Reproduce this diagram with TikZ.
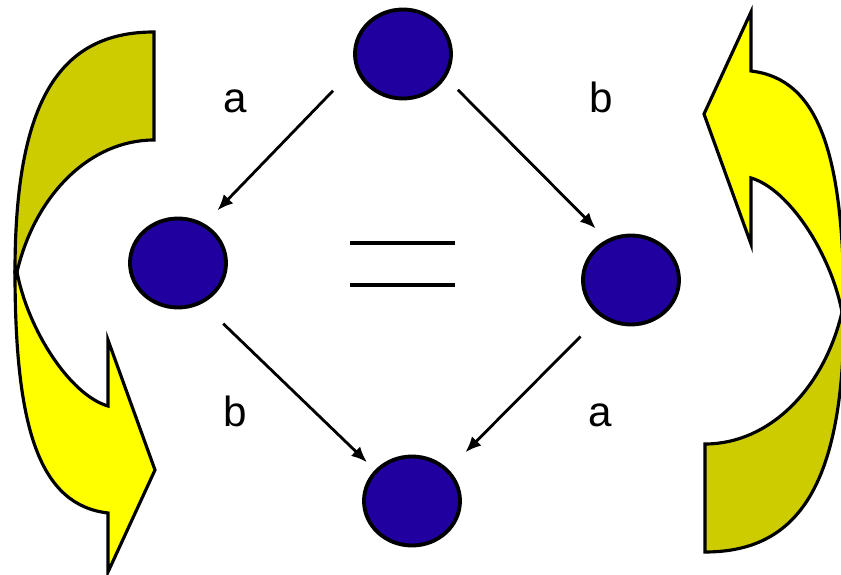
\documentclass[tikz,border=0pt]{standalone}
\usepackage{fontspec}
\setmainfont{Liberation Sans}
\usepackage{tikz}
\usetikzlibrary{shapes.geometric,arrows.meta}

\definecolor{knotenblau}{RGB}{32,0,158}
\definecolor{oliv}{RGB}{204,204,0}
\definecolor{gelb}{RGB}{255,255,0}

% gebogener Pfeil (Schwanz oben, Spitze unten)
\newcommand{\drehpfeil}{%
	\draw[band, fill=gelb] (0.34,6.04) -- (0.30,6.04) .. controls (0.30,2.88) and (0.80,1.38) .. (2.16,1.22)
		-- (2.16,0.04) -- (3.10,2.08) -- (2.16,4.68) -- (2.16,3.36)
		.. controls (1.40,3.58) and (0.56,4.88) .. (0.34,6.04) -- cycle;
	\draw[band, fill=oliv] (3.08,8.68) -- (3.08,10.84) .. controls (1.20,10.84) and (0.30,9.48) .. (0.30,6.04)
		-- (0.34,6.04) .. controls (0.70,7.58) and (1.80,8.68) .. (3.08,8.68) -- cycle;
}

\begin{document}
\begin{tikzpicture}[
		vertex/.style={ellipse, draw, line width=2.2pt, fill=knotenblau, minimum width=1.92cm, minimum height=1.78cm, inner sep=0pt},
		conn/.style={line width=1.6pt, -{Latex[length=9pt,width=7.5pt]}},
		lab/.style={anchor=base, font=\fontsize{24}{28}\selectfont},
		band/.style={line width=1.8pt, line join=miter}]
		
		\useasboundingbox (0,0) rectangle (16.82,11.48);
		
		% Pfeile links und rechts
		\drehpfeil
		\begin{scope}[rotate around={180:(8.59,5.64)}]
			\drehpfeil
		\end{scope}
		
		% Knoten
		\node[vertex] (top) at (8.06,10.40) {};
		\node[vertex] (left) at (3.56,6.22) {};
		\node[vertex] (right) at (12.62,5.88) {};
		\node[vertex] (bottom) at (8.24,1.46) {};
		
		% Kanten
		\draw[conn, shorten <=0.64cm, shorten >=0.37cm] (top.196) -- (left.56);
		\draw[conn, shorten <=0.34cm, shorten >=0.31cm] (top.331) -- (right.121);
		\draw[conn, shorten <=0.58cm, shorten >=0.22cm] (left.301) -- (bottom.140);
		\draw[conn, shorten <=0.56cm, shorten >=0.48cm] (right.230) -- (bottom.41);
		
		% Beschriftung
		\node[lab] (la) at (4.70,9.22) {a};
		\node[lab] (lb) at (12.03,9.22) {b};
		\node[lab] (lb2) at (4.70,2.94) {b};
		\node[lab] (la2) at (12.00,2.94) {a};
		
		% Gleichheitszeichen
		\draw[line width=2.2pt] (7.0,6.62) -- (9.1,6.62);
		\draw[line width=2.2pt] (7.0,5.78) -- (9.1,5.78);
		
	\end{tikzpicture}
\end{document}
